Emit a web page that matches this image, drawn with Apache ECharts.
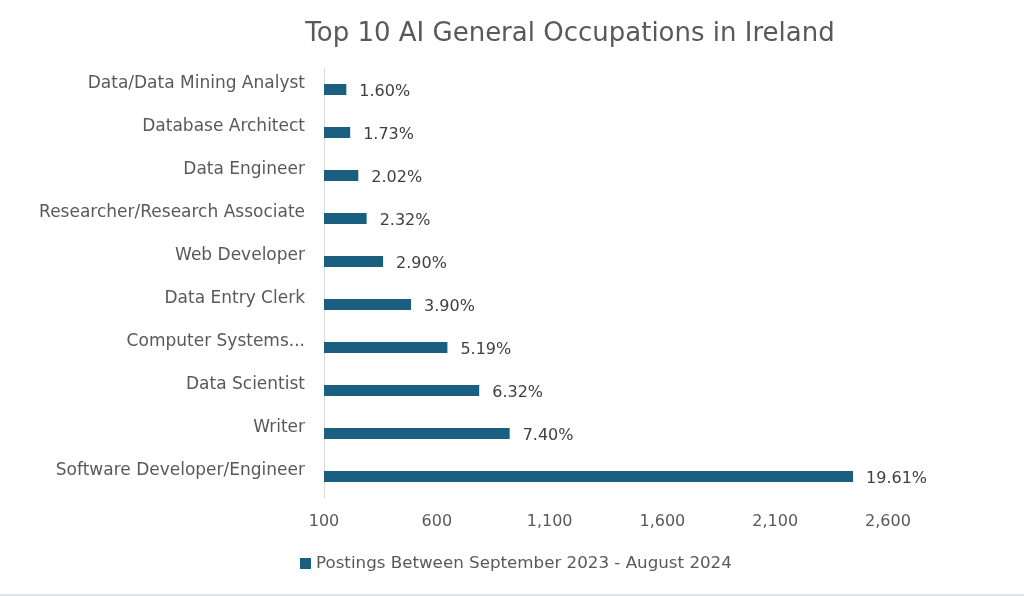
<!DOCTYPE html>
<html>
<head>
<meta charset="utf-8">
<script src="https://cdn.jsdelivr.net/npm/echarts@6/dist/echarts.min.js"></script>
<style>
  html, body { margin: 0; padding: 0; background: #fff; }
  #chart { width: 1024px; height: 594px; }
  #edge { width: 1024px; height: 2px; background: #e4e6ea; }
</style>
</head>
<body>
<div id="chart"></div>
<div id="edge"></div>
<script>
// categories top to bottom as shown
const occupations = [
  'Data/Data Mining Analyst',
  'Database Architect',
  'Data Engineer',
  'Researcher/Research Associate',
  'Web Developer',
  'Data Entry Clerk',
  'Computer Systems...',
  'Data Scientist',
  'Writer',
  'Software Developer/Engineer'
];
// postings
const postings = [199, 216, 252, 289, 362, 486, 647, 788, 923, 2445];
// share labels printed next to bars
const shares = ['1.60%', '1.73%', '2.02%', '2.32%', '2.90%', '3.90%', '5.19%', '6.32%', '7.40%', '19.61%'];

const seriesName = 'Postings Between September 2023 - August 2024';
const font = '"DejaVu Sans", sans-serif';

const chart = echarts.init(document.getElementById('chart'));
chart.setOption({
  animation: false,
  textStyle: { fontFamily: font },
  title: {
    text: 'Top 10 AI General Occupations in Ireland',
    left: 565,
    textAlign: 'center',
    top: 16,
    textStyle: { fontSize: 26, fontWeight: 'normal', color: '#595959', fontFamily: font }
  },
  legend: {
    bottom: 17,
    left: 295,
    itemWidth: 11,
    itemHeight: 11,
    itemGap: 4,
    icon: 'rect',
    textStyle: { fontSize: 16.7, color: '#595959', fontFamily: font },
    data: [seriesName]
  },
  grid: { left: 324, right: 136, top: 68, bottom: 96 },
  xAxis: {
    type: 'value',
    min: 100,
    max: 2600,
    interval: 500,
    splitLine: { show: false },
    axisLine: { show: false },
    axisTick: { show: false },
    axisLabel: {
      fontSize: 16,
      color: '#595959',
      margin: 16,
      formatter: v => v.toLocaleString('en-US')
    }
  },
  yAxis: {
    type: 'category',
    inverse: true,
    data: occupations,
    axisLine: { show: true, lineStyle: { color: '#d9d9d9', width: 1 } },
    axisTick: { show: false },
    axisLabel: { fontSize: 17, color: '#595959', margin: 19, verticalAlign: 'bottom', lineHeight: 11 }
  },
  series: [{
    name: seriesName,
    type: 'bar',
    data: postings,
    barWidth: 11,
    itemStyle: { color: '#1b5f80' },
    label: {
      show: true,
      position: 'right',
      distance: 13,
      fontSize: 16,
      color: '#404040',
      offset: [0, 2],
      formatter: p => shares[p.dataIndex]
    }
  }]
});
</script>
</body>
</html>
